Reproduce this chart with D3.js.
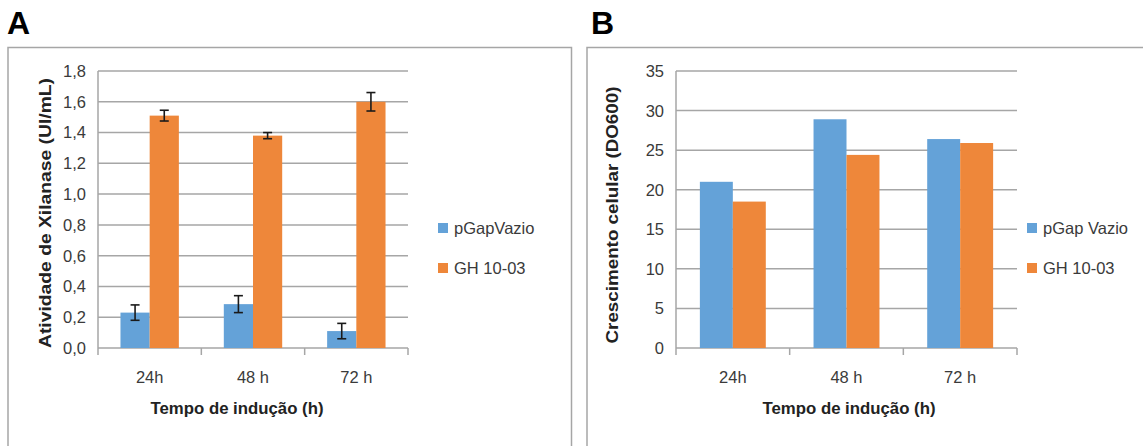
<!DOCTYPE html>
<html lang="pt">
<head>
    <meta charset="UTF-8">
    <title>Xilanase e crescimento celular</title>
    <script src="https://d3js.org/d3.v7.min.js"></script>
    <style>
        body { margin: 0; background: #fff; }
        svg { display: block; font-family: "Liberation Sans", Arial, sans-serif; }
        .grid line { stroke: #a6a6a6; stroke-width: 1.5px; }
        .tick-label { font-size: 16.5px; fill: #3a3a3a; }
        .axis-title { font-size: 16.5px; font-weight: bold; fill: #222; }
        .legend-label { font-size: 16.5px; fill: #3a3a3a; }
        .panel-letter { font-size: 32px; font-weight: bold; fill: #000; }
        .frame { fill: none; stroke: #a6a6a6; stroke-width: 1.5px; }
        .err { stroke: #1a1a1a; stroke-width: 1.6px; }
    </style>
</head>
<body>
    <svg width="1143" height="446"></svg>
    <script>
        // categories (induction time)
        const categories = ["24h", "48 h", "72 h"];

        // panel A: xylanase activity (UI/mL)
        const seriesA = ["pGapVazio", "GH 10-03"];
        const emptyA = [0.23, 0.285, 0.11];
        const emptyErrA = [0.05, 0.055, 0.05];
        const gh1003A = [1.51, 1.38, 1.60];
        const gh1003ErrA = [0.035, 0.02, 0.06];
        const ticksA = [0, 0.2, 0.4, 0.6, 0.8, 1.0, 1.2, 1.4, 1.6, 1.8];

        // panel B: cell growth (DO600)
        const seriesB = ["pGap Vazio", "GH 10-03"];
        const emptyB = [21.0, 28.9, 26.4];
        const gh1003B = [18.5, 24.4, 25.9];
        const ticksB = [0, 5, 10, 15, 20, 25, 30, 35];

        const colors = ["#64a2d8", "#ee873a"];

        const svg = d3.select("svg");

        function drawPanel(p) {
            const g = svg.append("g");

            // outer frame (open at bottom / right like the cropped figure)
            g.append("path").attr("class", "frame").attr("d", p.frame);

            g.append("text").attr("class", "panel-letter")
                .attr("x", p.letterX).attr("y", 34).text(p.letter);

            const y = d3.scaleLinear().domain(p.yDomain).range([348, 71]);
            const x0 = d3.scaleBand().domain(categories).range([p.left, p.right]);
            const groupW = x0.bandwidth() * p.groupFrac;
            const x1 = d3.scaleBand().domain(p.series)
                .range([(x0.bandwidth() - groupW) / 2, (x0.bandwidth() + groupW) / 2]);

            // gridlines
            g.append("g").attr("class", "grid").selectAll("line")
                .data(p.ticks).join("line")
                .attr("x1", p.left).attr("x2", p.right)
                .attr("y1", d => y(d)).attr("y2", d => y(d));

            // y-axis line and category ticks
            g.append("line").attr("x1", p.left).attr("x2", p.left)
                .attr("y1", y(p.yDomain[1])).attr("y2", y(0))
                .attr("stroke", "#a6a6a6").attr("stroke-width", 1.5);
            const edges = categories.map(c => x0(c)).concat([p.right]);
            g.append("g").selectAll("line").data(edges).join("line")
                .attr("x1", d => d).attr("x2", d => d)
                .attr("y1", y(0)).attr("y2", y(0) + 7)
                .attr("stroke", "#a6a6a6").attr("stroke-width", 1.5);

            // y tick labels
            g.append("g").selectAll("text").data(p.ticks).join("text")
                .attr("class", "tick-label")
                .attr("x", p.left - 12).attr("y", d => y(d))
                .attr("dy", "0.36em").attr("text-anchor", "end")
                .text(p.fmt);

            // x tick labels
            g.append("g").selectAll("text").data(categories).join("text")
                .attr("class", "tick-label")
                .attr("x", d => x0(d) + x0.bandwidth() / 2).attr("y", 383)
                .attr("text-anchor", "middle").text(d => d);

            // bars
            p.values.forEach((vals, si) => {
                const name = p.series[si];
                g.append("g").selectAll("rect").data(vals).join("rect")
                    .attr("x", (d, i) => x0(categories[i]) + x1(name))
                    .attr("y", d => y(d))
                    .attr("width", x1.bandwidth())
                    .attr("height", d => y(0) - y(d))
                    .attr("fill", colors[si]);

                if (p.errors) {
                    const errs = p.errors[si];
                    const eg = g.append("g").attr("class", "err");
                    vals.forEach((v, i) => {
                        const cx = x0(categories[i]) + x1(name) + x1.bandwidth() / 2;
                        const hi = y(v + errs[i]), lo = y(v - errs[i]);
                        eg.append("line").attr("x1", cx).attr("x2", cx).attr("y1", hi).attr("y2", lo);
                        eg.append("line").attr("x1", cx - 4.5).attr("x2", cx + 4.5).attr("y1", hi).attr("y2", hi);
                        eg.append("line").attr("x1", cx - 4.5).attr("x2", cx + 4.5).attr("y1", lo).attr("y2", lo);
                    });
                }
            });

            // axis titles
            g.append("text").attr("class", "axis-title")
                .attr("x", p.xTitleX).attr("y", 414)
                .attr("text-anchor", "middle")
                .attr("textLength", 173).attr("lengthAdjust", "spacingAndGlyphs")
                .text("Tempo de indução (h)");
            g.append("text").attr("class", "axis-title")
                .attr("transform", `translate(${p.yTitleX},${p.yTitleY}) rotate(-90)`)
                .attr("text-anchor", "middle").attr("dy", "0.35em")
                .attr("textLength", p.yTitleLen).attr("lengthAdjust", "spacingAndGlyphs")
                .text(p.yTitle);

            // legend
            const lg = g.append("g").selectAll("g").data(p.series).join("g")
                .attr("transform", (d, i) => `translate(${p.legendX},${223 + i * 40})`);
            lg.append("rect").attr("width", 10).attr("height", 10)
                .attr("fill", (d, i) => colors[i]);
            lg.append("text").attr("class", "legend-label")
                .attr("x", 16).attr("y", 5).attr("dy", "0.36em").text(d => d);
        }

        drawPanel({
            letter: "A", letterX: 7,
            frame: "M8,446V47.5H571.5V446",
            left: 98, right: 408, groupFrac: 0.565,
            yDomain: [0, 1.8], ticks: ticksA,
            fmt: d => d.toFixed(1).replace(".", ","),
            series: seriesA,
            values: [emptyA, gh1003A],
            errors: [emptyErrA, gh1003ErrA],
            xTitleX: 237, yTitleX: 45, yTitleY: 213, yTitleLen: 270,
            yTitle: "Atividade de Xilanase (UI/mL)",
            legendX: 438
        });

        drawPanel({
            letter: "B", letterX: 591,
            frame: "M587,446V47.5H1143",
            left: 676, right: 1017, groupFrac: 0.58,
            yDomain: [0, 35], ticks: ticksB,
            fmt: d => d,
            series: seriesB,
            values: [emptyB, gh1003B],
            errors: null,
            xTitleX: 849, yTitleX: 612, yTitleY: 215, yTitleLen: 257,
            yTitle: "Crescimento celular (DO600)",
            legendX: 1027
        });
    </script>
</body>
</html>
